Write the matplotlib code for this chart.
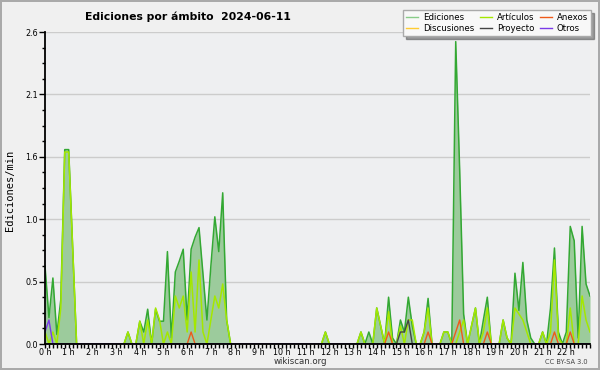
import numpy as np
import matplotlib
matplotlib.use("Agg")
import matplotlib.pyplot as plt
from matplotlib.lines import Line2D
from matplotlib.ticker import FixedLocator, AutoMinorLocator, FormatStrFormatter

N = 139  # 10-minute bins from 00:00 to 23:00

def series(points):
    arr = np.zeros(N)
    for k, v in points.items():
        arr[k] = v
    return arr

ediciones_pts = {
    0: 0.65, 1: 0.22, 2: 0.55, 3: 0.08, 4: 0.37, 5: 1.62, 6: 1.62, 7: 0.8,
    21: 0.1,
    24: 0.19, 25: 0.1, 26: 0.29, 27: 0.0, 28: 0.29, 29: 0.19, 30: 0.19, 31: 0.77,
    32: 0.05, 33: 0.6, 34: 0.69, 35: 0.79, 36: 0.2, 37: 0.79, 38: 0.89, 39: 0.97,
    40: 0.58, 41: 0.2, 42: 0.65, 43: 1.06, 44: 0.77, 45: 1.26, 46: 0.2,
    71: 0.1, 80: 0.1, 82: 0.1,
    84: 0.3, 85: 0.15, 87: 0.39, 88: 0.05, 90: 0.2, 91: 0.1, 92: 0.39, 93: 0.15,
    96: 0.1, 97: 0.38, 101: 0.1, 102: 0.1,
    104: 2.52, 105: 1.45, 106: 0.25, 108: 0.15, 109: 0.3, 111: 0.2, 112: 0.39,
    116: 0.2, 117: 0.05, 119: 0.59, 120: 0.28, 121: 0.68, 122: 0.2, 123: 0.05,
    126: 0.1, 128: 0.3, 129: 0.8, 130: 0.1, 132: 0.1, 133: 0.98, 134: 0.86,
    135: 0.05, 136: 0.98, 137: 0.5, 138: 0.4,
}
articulos_pts = {
    0: 0.1, 2: 0.1, 4: 0.3, 5: 1.6, 6: 1.6, 7: 0.8,
    21: 0.1,
    24: 0.19, 26: 0.2, 28: 0.3, 29: 0.2, 31: 0.1, 33: 0.4, 34: 0.3, 35: 0.4,
    36: 0.1, 37: 0.6, 38: 0.1, 39: 0.7, 40: 0.1, 42: 0.2, 43: 0.4, 44: 0.3,
    45: 0.5, 46: 0.2,
    71: 0.1, 80: 0.1, 84: 0.3, 85: 0.15, 87: 0.27, 90: 0.15, 92: 0.2, 93: 0.2,
    96: 0.1, 97: 0.3, 101: 0.1, 102: 0.1, 105: 0.1, 106: 0.2, 108: 0.15,
    109: 0.3, 111: 0.1, 112: 0.3, 116: 0.2, 117: 0.05, 119: 0.3, 120: 0.25,
    121: 0.2, 122: 0.1, 126: 0.1, 128: 0.1, 129: 0.7, 130: 0.05, 133: 0.3,
    136: 0.4, 137: 0.2, 138: 0.1,
}
anexos_pts = {37: 0.1, 87: 0.1, 97: 0.1, 104: 0.1, 105: 0.2, 112: 0.1, 129: 0.1, 133: 0.1}
discusiones_pts = {}
proyecto_pts = {90: 0.1, 91: 0.1, 92: 0.2}
otros_pts = {0: 0.1, 1: 0.2}

ediciones = series(ediciones_pts)
articulos = series(articulos_pts)
anexos = series(anexos_pts)
discusiones = series(discusiones_pts)
proyecto = series(proyecto_pts)
otros = series(otros_pts)

hours = np.arange(N) / 6.0
hour_ticks = list(range(0, 23))
hour_labels = [f"{h} h" for h in hour_ticks]
y_max = 2.6

fig = plt.figure(figsize=(6, 3.7), dpi=100)
fig.patch.set_facecolor('#f0f0f0')
fig.patch.set_edgecolor('#aaaaaa')
fig.patch.set_linewidth(1.5)

ax = fig.add_axes([45/600, 26/370, 545/600, 312/370])
ax.set_facecolor('#eeeff1')

c_ed = '#33a833'
c_fill = '#9ccb9c'
c_art = '#a4e800'
c_anx = '#ee5a1a'
c_dis = '#ffcc33'
c_pro = '#444444'
c_otr = '#7a3ae8'

ax.fill_between(hours, 0, ediciones, color=c_fill, lw=0, zorder=1)
ax.plot(hours, ediciones, color=c_ed, lw=1.1, zorder=2)
ax.plot(hours, articulos, color=c_art, lw=1.1, zorder=2.1)
ax.plot(hours, discusiones, color=c_dis, lw=1.0, zorder=2.0)
ax.plot(hours, anexos, color=c_anx, lw=1.0, zorder=2.2)
ax.plot(hours, proyecto, color=c_pro, lw=1.0, zorder=2.2)
ax.plot(hours, otros, color=c_otr, lw=1.0, zorder=2.2)

ax.set_xlim(0, hours[-1])
ax.set_ylim(0, y_max)

ax.xaxis.set_major_locator(FixedLocator(hour_ticks))
ax.set_xticklabels(hour_labels)
ax.xaxis.set_minor_locator(FixedLocator(hours))
yt = np.linspace(0, y_max, 6)
ax.set_yticks(yt)
ax.yaxis.set_major_formatter(FormatStrFormatter('%.1f'))
ax.yaxis.set_minor_locator(AutoMinorLocator(4))

ax.tick_params(axis='both', which='both', direction='out', color='black', width=1)
ax.tick_params(axis='x', which='major', length=3.2, labelsize=5.8, pad=0)
ax.tick_params(axis='x', which='minor', length=3.2)
ax.tick_params(axis='y', which='major', length=4, labelsize=5.8, pad=1)
ax.tick_params(axis='y', which='minor', length=2.5)

ax.grid(axis='y', which='major', color='#cccccc', lw=1)
ax.set_axisbelow(True)
for s in ('top', 'right'):
    ax.spines[s].set_visible(False)
for s in ('left', 'bottom'):
    ax.spines[s].set_linewidth(1.3)
    ax.spines[s].set_zorder(3)

fig.text(188/600, 1 - 17/370, "Ediciones por ámbito  2024-06-11",
         ha='center', va='center', fontsize=7.8, fontweight='bold')
fig.text(10/600, 1 - 190/370, "Ediciones/min", rotation=90, ha='center', va='center',
         fontsize=7.5, family='DejaVu Sans Mono')
fig.text(300/600, 1 - 362/370, "wikiscan.org", ha='center', va='center',
         fontsize=6.2, color='#333333')
fig.text(588/600, 1 - 362/370, "CC BY-SA 3.0", ha='right', va='center',
         fontsize=4.8, color='#444444')

handles = [
    Line2D([], [], color='#88cc88', lw=1),
    Line2D([], [], color=c_dis, lw=1),
    Line2D([], [], color=c_art, lw=1),
    Line2D([], [], color=c_pro, lw=1),
    Line2D([], [], color=c_anx, lw=1),
    Line2D([], [], color=c_otr, lw=1),
]
labels = ["Ediciones", "Discusiones", "Artículos", "Proyecto", "Anexos", "Otros"]
leg = fig.legend(handles, labels, ncol=3, loc='upper right',
                 bbox_to_anchor=(591/600, 1 - 10/370), frameon=True, fancybox=False,
                 shadow=True, fontsize=6.2, handlelength=1.4, columnspacing=0.6,
                 labelspacing=0.25, borderpad=0.35, handletextpad=0.6, borderaxespad=0)
leg.get_frame().set_facecolor('#f8f8f8')
leg.get_frame().set_edgecolor('#aaaaaa')
leg.get_frame().set_linewidth(1)

fig.savefig("out.png", dpi=100, facecolor=fig.get_facecolor(), edgecolor=fig.get_edgecolor())
